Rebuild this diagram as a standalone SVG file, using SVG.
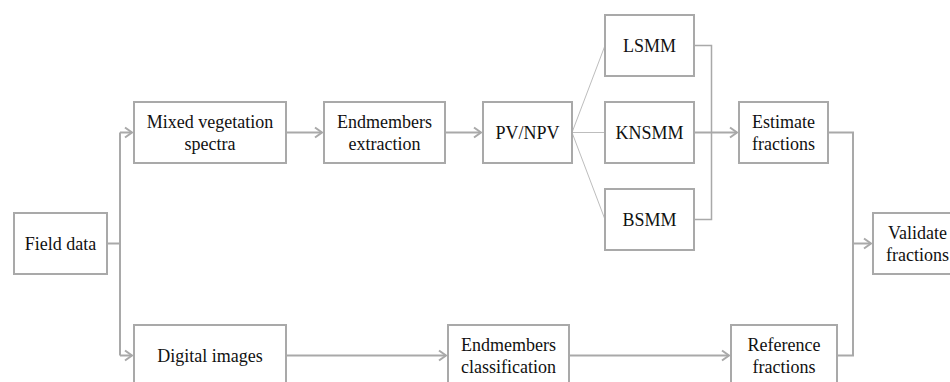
<svg xmlns="http://www.w3.org/2000/svg" width="950" height="382" viewBox="0 0 950 382">
<style>
.box{fill:#fff;stroke:#a9a9a9;stroke-width:2}
.t{font-size:18px;fill:#111;text-anchor:middle}
.c{fill:none;stroke:#a9a9a9;stroke-width:2}
.thin{fill:none;stroke:#bdbdbd;stroke-width:1}
.mid{fill:none;stroke:#a9a9a9;stroke-width:1.5}
</style>
<defs>
<marker id="arr" markerUnits="userSpaceOnUse" markerWidth="12" markerHeight="14" viewBox="-9 -7 12 14" refX="0" refY="0" orient="auto">
<path d="M-7,-5 L0,0 L-7,5" fill="none" stroke="#a9a9a9" stroke-width="2"/>
</marker>
</defs>
<rect width="950" height="382" fill="#fff"/>
<g id="connectors">
<path class="c" d="M107 243.5 H120"/>
<path class="c" d="M120 132.5 V355.5"/>
<path class="c" d="M120 132.5 H132" marker-end="url(#arr)"/>
<path class="c" d="M120 355.5 H132" marker-end="url(#arr)"/>
<path class="c" d="M286 132.5 H322" marker-end="url(#arr)"/>
<path class="c" d="M445 132.5 H481" marker-end="url(#arr)"/>
<path class="thin" d="M572 132.5 L605 45.5"/>
<path class="thin" d="M572 132.5 H605"/>
<path class="thin" d="M572 132.5 L605 219.5"/>
<path class="mid" d="M694 45.5 H711.5 V219.5 H694"/>
<path class="c" d="M694 132.5 H737" marker-end="url(#arr)"/>
<path class="c" d="M828 132.5 H853 V355.5 H837"/>
<path class="c" d="M853 243.5 H871" marker-end="url(#arr)"/>
<path class="c" d="M286 355.5 H446" marker-end="url(#arr)"/>
<path class="c" d="M569 355.5 H729" marker-end="url(#arr)"/>
</g>
<g font-family="Liberation Serif, Times New Roman, serif">
<g id="field-data"><rect class="box" x="14" y="213" width="93" height="61"/><text class="t" x="60.5" y="250">Field data</text></g>
<g id="mixed-vegetation-spectra"><rect class="box" x="134" y="102" width="152" height="61"/><text class="t" x="210" y="128">Mixed vegetation</text><text class="t" x="210" y="150">spectra</text></g>
<g id="endmembers-extraction"><rect class="box" x="324" y="102" width="121" height="61"/><text class="t" x="384.5" y="128">Endmembers</text><text class="t" x="384.5" y="150">extraction</text></g>
<g id="pv-npv"><rect class="box" x="483" y="102" width="89" height="61"/><text class="t" x="527.5" y="139">PV/NPV</text></g>
<g id="lsmm"><rect class="box" x="605" y="15" width="89" height="61"/><text class="t" x="649.5" y="52">LSMM</text></g>
<g id="knsmm"><rect class="box" x="605" y="102" width="89" height="61"/><text class="t" x="649.5" y="139">KNSMM</text></g>
<g id="bsmm"><rect class="box" x="605" y="189" width="89" height="61"/><text class="t" x="649.5" y="226">BSMM</text></g>
<g id="estimate-fractions"><rect class="box" x="739" y="102" width="89" height="61"/><text class="t" x="783.5" y="128">Estimate</text><text class="t" x="783.5" y="150">fractions</text></g>
<g id="validate-fractions"><rect class="box" x="873" y="213" width="89" height="61"/><text class="t" x="917.5" y="239">Validate</text><text class="t" x="917.5" y="261">fractions</text></g>
<g id="digital-images"><rect class="box" x="134" y="325" width="152" height="61"/><text class="t" x="210" y="362">Digital images</text></g>
<g id="endmembers-classification"><rect class="box" x="448" y="325" width="121" height="61"/><text class="t" x="508.5" y="351">Endmembers</text><text class="t" x="508.5" y="373">classification</text></g>
<g id="reference-fractions"><rect class="box" x="731" y="325" width="106" height="61"/><text class="t" x="784" y="351">Reference</text><text class="t" x="784" y="373">fractions</text></g>
</g>
</svg>
